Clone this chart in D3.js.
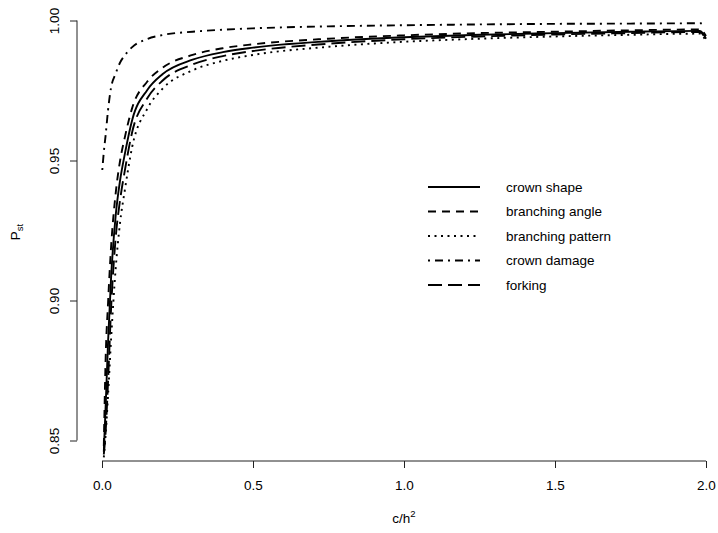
<!DOCTYPE html>
<html>
<head>
<meta charset="utf-8">
<script src="https://cdn.jsdelivr.net/npm/d3@7"></script>
<style>
	body { margin: 0; background: #fff; }
	svg text { font-family: "Liberation Sans", Arial, sans-serif; fill: #000; }
</style>
</head>
<body>
<svg id="chart" width="718" height="533"></svg>
<script>
// c/h^2 values the curves were read at
var ratio = [0.001, 0.006, 0.012, 0.02, 0.03, 0.045, 0.06, 0.075, 0.1, 0.15, 0.2, 0.3, 0.4, 0.5, 0.75, 1.0, 1.25, 1.5, 1.75, 1.98, 2.0];

var crownShape       = [null, 0.846, 0.862, 0.885, 0.908, 0.930, 0.943, 0.952, 0.9645, 0.9752, 0.9808, 0.9860, 0.9887, 0.9903, 0.9926, 0.9940, 0.9949, 0.9955, 0.9960, 0.9963, 0.9935];
var branchingAngle   = [null, 0.848, 0.879, 0.899, 0.919, 0.938, 0.950, 0.958, 0.9688, 0.9782, 0.9831, 0.9877, 0.9901, 0.9915, 0.9935, 0.9947, 0.9955, 0.9960, 0.9965, 0.9968, 0.9945];
var branchingPattern = [null, 0.844, 0.852, 0.866, 0.886, 0.911, 0.928, 0.939, 0.9549, 0.9685, 0.9756, 0.9822, 0.9856, 0.9877, 0.9906, 0.9924, 0.9935, 0.9943, 0.9949, 0.9953, 0.9925];
var crownDamage      = [0.9466, 0.953, 0.959, 0.968, 0.976, 0.981, 0.985, 0.9875, 0.9905, 0.9934, 0.9948, 0.9960, 0.9967, 0.9972, 0.9979, 0.9983, 0.9986, 0.9988, 0.9989, 0.9990, 0.9989];
var forking          = [null, 0.845, 0.853, 0.871, 0.897, 0.922, 0.936, 0.946, 0.9602, 0.9722, 0.9785, 0.9843, 0.9873, 0.9891, 0.9917, 0.9933, 0.9943, 0.9950, 0.9955, 0.9959, 0.9930];

var seriesNames = ["crown shape", "branching angle", "branching pattern", "crown damage", "forking"];
var seriesValues = [crownShape, branchingAngle, branchingPattern, crownDamage, forking];
var dashes = [null, "8,6", "2,4.5", "2,5,8,5", "14,6"];

var xTicks = [0, 0.5, 1.0, 1.5, 2.0];
var yTicks = [0.85, 0.90, 0.95, 1.00];

(function () {
	var svg = d3.select("#chart");

	var x = d3.scaleLinear().domain([0, 2]).range([102, 706]);
	var y = d3.scaleLinear().domain([0.85, 1.0]).range([440.5, 20.5]);
	var axisY = 461, axisX = 77;

	// x axis, R style: line only between first and last tick
	var gx = svg.append("g")
		.attr("transform", "translate(0," + axisY + ")")
		.call(d3.axisBottom(x).tickValues(xTicks).tickFormat(d3.format(".1f")).tickSize(7).tickSizeOuter(0));
	gx.select(".domain").remove();
	gx.append("line")
		.attr("x1", x(xTicks[0])).attr("x2", x(xTicks[xTicks.length - 1]))
		.attr("stroke", "#222");
	gx.selectAll(".tick line").attr("stroke", "#222");
	gx.selectAll(".tick text")
		.attr("y", 25)
		.attr("dy", "0.32em")
		.style("font-size", "13.5px")
		.style("font-family", "Liberation Sans, Arial, sans-serif")
		.attr("fill", "#000");

	var gy = svg.append("g")
		.attr("transform", "translate(" + axisX + ",0)")
		.call(d3.axisLeft(y).tickValues(yTicks).tickFormat(d3.format(".2f")).tickSize(7).tickSizeOuter(0));
	gy.select(".domain").remove();
	gy.append("line")
		.attr("y1", y(yTicks[0])).attr("y2", y(yTicks[yTicks.length - 1]))
		.attr("stroke", "#222");
	gy.selectAll(".tick line").attr("stroke", "#222");
	gy.selectAll(".tick text")
		.attr("x", null).attr("dy", null)
		.attr("transform", "translate(-22,0) rotate(-90)")
		.attr("text-anchor", "middle")
		.attr("dy", "0.32em")
		.style("font-size", "13.5px")
		.style("font-family", "Liberation Sans, Arial, sans-serif")
		.attr("fill", "#000");

	// axis titles
	var xt = svg.append("text")
		.attr("x", 404)
		.attr("y", 523)
		.attr("text-anchor", "middle")
		.style("font-size", "13.5px")
		.text("c/h");
	xt.append("tspan").attr("dy", -6).style("font-size", "9.5px").text("2");

	var yt = svg.append("text")
		.attr("transform", "translate(20,232) rotate(-90)")
		.attr("text-anchor", "middle")
		.style("font-size", "13.5px")
		.text("P");
	yt.append("tspan").attr("dy", 3).style("font-size", "9.5px").text("st");

	// curves
	var line = d3.line()
		.defined(function (d) { return d[1] != null; })
		.x(function (d) { return x(d[0]); })
		.y(function (d) { return y(d[1]); })
		.curve(d3.curveMonotoneX);

	seriesValues.forEach(function (vals, i) {
		var pts = ratio.map(function (r, j) { return [r, vals[j]]; });
		svg.append("path")
			.datum(pts)
			.attr("fill", "none")
			.attr("stroke", "#000")
			.attr("stroke-width", 1.9)
			.attr("stroke-dasharray", dashes[i])
			.attr("d", line);
	});

	// legend, no box
	var legend = svg.append("g").attr("transform", "translate(428,187)");
	seriesNames.forEach(function (name, i) {
		var row = legend.append("g").attr("transform", "translate(0," + (i * 24.5) + ")");
		row.append("line")
			.attr("x1", 0).attr("x2", 52)
			.attr("stroke", "#000")
			.attr("stroke-width", 1.9)
			.attr("stroke-dasharray", dashes[i]);
		row.append("text")
			.attr("x", 78)
			.attr("dy", "0.35em")
			.style("font-size", "13.5px")
			.text(name);
	});
}) ();
</script>
</body>
</html>
